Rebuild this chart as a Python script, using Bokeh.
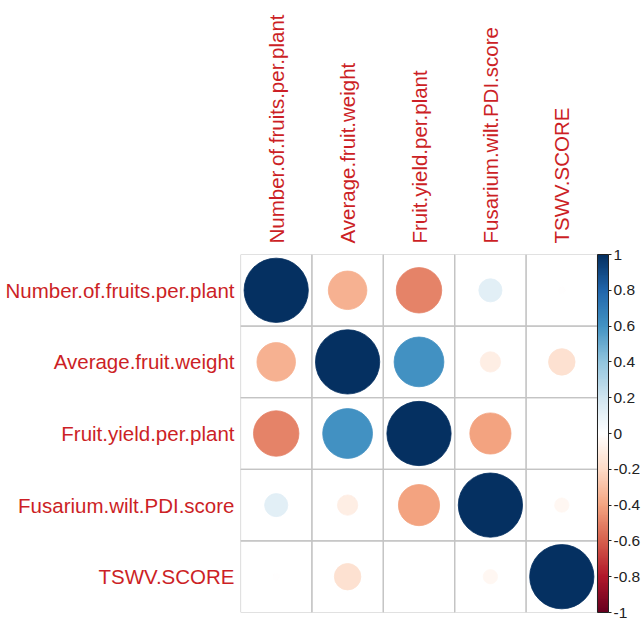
import numpy as np
from bokeh.plotting import figure
from bokeh.models import (Range1d, LinearAxis, FixedTicker, ColumnDataSource,
                          LinearColorMapper, ColorBar, CustomJSTickFormatter)
from bokeh.transform import transform
from bokeh.embed import file_html
from bokeh.resources import INLINE

variables = ["Number.of.fruits.per.plant", "Average.fruit.weight",
             "Fruit.yield.per.plant", "Fusarium.wilt.PDI.score", "TSWV.SCORE"]

# correlation matrix
corr = [
    [1.00, -0.36, -0.50, 0.13, -0.01],
    [-0.36, 1.00, 0.60, -0.10, -0.17],
    [-0.50, 0.60, 1.00, -0.41, 0.00],
    [0.13, -0.10, -0.41, 1.00, -0.05],
    [-0.01, -0.17, 0.00, -0.05, 1.00],
]

colorbar_ticks = [-1, -0.8, -0.6, -0.4, -0.2, 0, 0.2, 0.4, 0.6, 0.8, 1]

# RdBu palette anchors (corrplot COL2)
anchors = ["#67001F", "#B2182B", "#D6604D", "#F4A582", "#FDDBC7", "#FFFFFF",
           "#D1E5F0", "#92C5DE", "#4393C3", "#2166AC", "#053061"]


def build_palette(cols, n=200):
    rgb = np.array([[int(c[i:i + 2], 16) for i in (1, 3, 5)] for c in cols], float)
    pos = np.linspace(0, 1, len(cols))
    out = []
    for t in np.linspace(0, 1, n):
        r = np.interp(t, pos, rgb[:, 0])
        g = np.interp(t, pos, rgb[:, 1])
        b = np.interp(t, pos, rgb[:, 2])
        out.append("#%02x%02x%02x" % (int(round(r)), int(round(g)), int(round(b))))
    return out


palette = build_palette(anchors)
mapper = LinearColorMapper(palette=palette, low=-1, high=1)

n = len(variables)
xs, ys, vals, rads = [], [], [], []
for i in range(n):
    for j in range(n):
        xs.append(j + 1)
        ys.append(i + 1)
        v = corr[i][j]
        vals.append(v)
        rads.append(0.45 * np.sqrt(abs(v)))
src = ColumnDataSource(dict(x=xs, y=ys, v=vals, r=rads))

LABEL_COLOR = "#CC1F26"
FONT = "Liberation Sans"

p = figure(width=644, height=621, output_backend="svg", toolbar_location=None,
           x_range=Range1d(0.5, n + 0.5), y_range=Range1d(n + 0.5, 0.5),
           x_axis_location=None, y_axis_location=None,
           min_border_left=240, min_border_top=254, min_border_bottom=9,
           min_border_right=47)
p.xgrid.visible = False
p.ygrid.visible = False
p.outline_line_color = None

# cell borders
p.rect(x="x", y="y", width=1, height=1, source=src, fill_color=None,
       line_color="#C4C4C4", line_width=1.2)

# circles
p.circle(x="x", y="y", radius="r", source=src,
         fill_color=transform("v", mapper), line_color=transform("v", mapper),
         line_width=0.8)

ticks = list(range(1, n + 1))
overrides = {t: lab for t, lab in zip(ticks, variables)}

left = LinearAxis(ticker=FixedTicker(ticks=ticks), major_label_overrides=overrides)
top = LinearAxis(ticker=FixedTicker(ticks=ticks), major_label_overrides=overrides,
                 major_label_orientation="vertical")
for ax in (left, top):
    ax.axis_line_color = None
    ax.major_tick_line_color = None
    ax.minor_tick_line_color = None
    ax.major_tick_out = 0
    ax.major_tick_in = 0
    ax.major_label_text_color = LABEL_COLOR
    ax.major_label_text_font = FONT
    ax.major_label_text_font_size = "20.5px"
left.major_label_standoff = 6
top.major_label_standoff = 11
p.add_layout(left, "left")
p.add_layout(top, "above")

cb = ColorBar(color_mapper=mapper, ticker=FixedTicker(ticks=colorbar_ticks),
              formatter=CustomJSTickFormatter(code="return tick.toFixed(1).replace(/\\.0$/, '');"),
              width=11, height=358, margin=4, padding=0,
              bar_line_color="#222222", bar_line_width=1,
              major_tick_out=3, major_tick_in=0, major_tick_line_color="#222222",
              label_standoff=2, major_label_text_font=FONT,
              major_label_text_font_size="15.5px", major_label_text_color="#222222",
              background_fill_color=None, border_line_color=None,
              location=(0, 0))
p.add_layout(cb, "right")

open("out.html", "w").write(file_html(p, INLINE))
